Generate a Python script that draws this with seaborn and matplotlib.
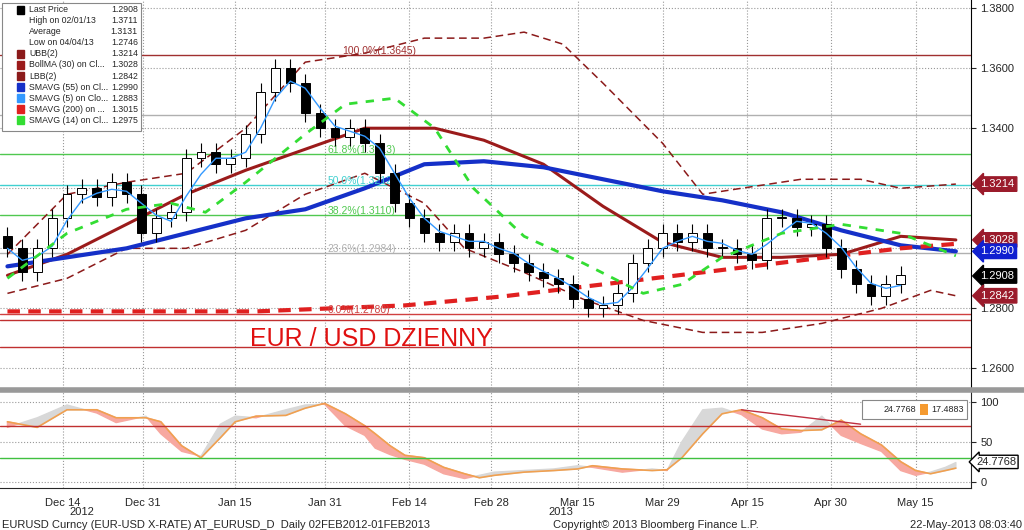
import numpy as np
import pandas as pd
import seaborn as sns
import matplotlib.pyplot as plt
from matplotlib.patches import Rectangle

sns.set_style("white")
plt.rcParams['font.family'] = ['Liberation Sans', 'DejaVu Sans']

# daily closes (one per trading slot)
closes = [1.300, 1.292, 1.300, 1.310, 1.318, 1.320, 1.317, 1.322, 1.318, 1.305, 1.310,
          1.312, 1.330, 1.332, 1.328, 1.330, 1.338, 1.352, 1.360, 1.355, 1.345, 1.340,
          1.337, 1.340, 1.335, 1.325, 1.315, 1.310, 1.305, 1.302, 1.305, 1.300, 1.302,
          1.298, 1.295, 1.292, 1.290, 1.288, 1.283, 1.280, 1.281, 1.285, 1.295, 1.300,
          1.305, 1.302, 1.305, 1.300, 1.300, 1.298, 1.296, 1.310, 1.310, 1.307, 1.308,
          1.300, 1.293, 1.288, 1.284, 1.288, 1.291]

# overlays: (slot, value)
sma55_x = [0, 4, 8, 12, 16, 20, 24, 28, 32, 36, 40, 44, 48, 52, 56, 60, 63.7]
sma55_y = [1.294, 1.297, 1.300, 1.305, 1.310, 1.313, 1.320, 1.328, 1.329, 1.327, 1.323,
           1.319, 1.316, 1.312, 1.306, 1.301, 1.299]
boll_x = [0, 4, 8, 12, 16, 20, 24, 28.7, 32, 36, 40, 44, 48, 52, 56, 60, 63.7]
boll_y = [1.291, 1.298, 1.308, 1.318, 1.326, 1.333, 1.340, 1.340, 1.336, 1.328, 1.314,
          1.302, 1.297, 1.297, 1.298, 1.304, 1.3028]
ubb_x = [0, 4, 8, 12, 16, 20, 24, 28, 32, 34.7, 37.3, 40, 44, 46.7, 49.3, 53.3, 57.3, 60, 63.7]
ubb_y = [1.298, 1.318, 1.322, 1.325, 1.340, 1.362, 1.365, 1.370, 1.370, 1.372, 1.368,
         1.355, 1.335, 1.318, 1.320, 1.323, 1.323, 1.320, 1.3214]
lbb_x = [0, 4, 8, 12, 16, 20, 24, 28, 30.7, 34.7, 38.7, 42.7, 46.7, 50.7, 54.7, 58.7, 62, 63.7]
lbb_y = [1.285, 1.290, 1.300, 1.300, 1.306, 1.318, 1.325, 1.315, 1.300, 1.292, 1.283,
         1.276, 1.272, 1.272, 1.275, 1.280, 1.286, 1.2842]
sma200_x = [0, 16.7, 26.7, 33.3, 40, 46.7, 53.3, 60, 63.7]
sma200_y = [1.279, 1.279, 1.281, 1.284, 1.288, 1.292, 1.296, 1.300, 1.3015]
sma14_x = [0, 4, 8, 11, 13.3, 16, 20, 22.7, 26, 28.7, 31.3, 34.7, 38.7, 42.7, 45.3,
           48, 52, 56, 60, 63.7]
sma14_y = [1.290, 1.305, 1.313, 1.315, 1.312, 1.322, 1.338, 1.348, 1.350, 1.340, 1.320,
           1.304, 1.295, 1.285, 1.288, 1.297, 1.305, 1.308, 1.305, 1.2975]

fib_levels = [1.3645, 1.3313, 1.3212, 1.3110, 1.2984, 1.2780]
fib_labels = ["100.0%(1.3645)", "61.8%(1.3313)", "50.0%(1.3212)", "38.2%(1.3110)",
              "23.6%(1.2984)", "0.0%(1.2780)"]
fib_colors = ["#a03030", "#50c850", "#40d0d0", "#50c850", "#b0b0b0", "#d04040"]
extra_levels = [1.3443, 1.2760, 1.2670]

# oscillator (slow line and fast line)
osc_x = [0, 2, 4, 6, 7.3, 9.3, 10.3, 11.7, 13, 14.3, 15.3, 16.7, 18.7, 20, 21.3, 22.7,
         24, 24.7, 25.7, 26.7, 28, 29.3, 30.7, 31.7, 32.7, 34.7, 36.7, 38.3, 39.3, 41.3,
         43.3, 44.3, 45.3, 46.7, 48, 49.3, 50.7, 52, 53.3, 54.7, 56, 57.3, 58.7, 60, 61,
         62, 63, 63.7]
slow = [75, 68, 90, 90, 80, 80, 75, 45, 30, 55, 75, 82, 83, 92, 98, 85, 70, 60, 45, 33,
        30, 18, 10, 5, 8, 12, 14, 16, 20, 16, 14, 15, 30, 60, 85, 90, 80, 66, 64, 65, 77,
        60, 46, 25, 14, 10, 14, 17]
fast = [68, 80, 96, 86, 74, 82, 60, 38, 32, 72, 82, 80, 90, 96, 97, 70, 58, 42, 34, 28,
        22, 10, 4, 8, 12, 14, 16, 20, 18, 12, 16, 14, 50, 90, 92, 84, 66, 60, 62, 82, 58,
        48, 38, 14, 8, 12, 18, 24]

tick_pos = [3.7, 9.1, 15.3, 21.3, 27, 32.5, 38.3, 44, 49.7, 55.3, 61]
tick_lab = ["Dec 14", "Dec 31", "Jan 15", "Jan 31", "Feb 14", "Feb 28", "Mar 15",
            "Mar 29", "Apr 15", "Apr 30", "May 15"]

fig = plt.figure(figsize=(10.24, 5.3), dpi=100)
ax = fig.add_axes([0.0, 0.268, 0.948, 0.732])
ax2 = fig.add_axes([0.0, 0.079, 0.948, 0.181])
xmin, xmax = -0.5, 64.7

# candles
opens = [closes[0] + 0.004] + closes[:-1]
df = pd.DataFrame({"i": range(len(closes)), "o": opens, "c": closes})
for _, r in df.iterrows():
    lo, hi = min(r.o, r.c), max(r.o, r.c)
    ax.vlines(r.i, lo - 0.003, hi + 0.003, color="black", lw=0.8, zorder=3)
    ax.add_patch(Rectangle((r.i - 0.3, lo), 0.6, max(hi - lo, 0.0006),
                           facecolor="black" if r.c < r.o else "white",
                           edgecolor="black", lw=0.7, zorder=4))

sns.lineplot(x=df.i, y=df.c.rolling(3, min_periods=1).mean(), ax=ax, color="#3399ff", lw=1, zorder=5)
sns.lineplot(x=ubb_x, y=ubb_y, ax=ax, color="#8b1a1a", lw=1.1, linestyle=(0, (5, 3)))
sns.lineplot(x=lbb_x, y=lbb_y, ax=ax, color="#8b1a1a", lw=1.1, linestyle=(0, (5, 3)))
sns.lineplot(x=boll_x, y=boll_y, ax=ax, color="#9b1b1b", lw=2.2)
sns.lineplot(x=sma55_x, y=sma55_y, ax=ax, color="#1530c8", lw=3)
sns.lineplot(x=sma200_x, y=sma200_y, ax=ax, color="#e02020", lw=3, linestyle=(0, (3, 2)))
sns.lineplot(x=sma14_x, y=sma14_y, ax=ax, color="#33dd33", lw=2, linestyle=(0, (3, 3)), zorder=6)

for lv, lb, cl in zip(fib_levels, fib_labels, fib_colors):
    ax.axhline(lv, color=cl, lw=1, zorder=1)
    ax.text(22.5 if lv > 1.36 else 21.5, lv + 0.0003, lb, color=cl, fontsize=7.5, zorder=2)
for lv in extra_levels:
    ax.axhline(lv, color="#b0b0b0" if lv > 1.3 else "#c03030", lw=1, zorder=1)

ax.text(16.3, 1.2675, "EUR / USD DZIENNY", color="#e01010", fontsize=18)

ax.set_xlim(xmin, xmax)
ax.set_ylim(1.2535, 1.3827)
ax.yaxis.tick_right()
ax.set_yticks([1.26, 1.28, 1.30, 1.32, 1.34, 1.36, 1.38])
ax.set_yticklabels([f"{v:.4f}" for v in [1.26, 1.28, 1.30, 1.32, 1.34, 1.36, 1.38]], fontsize=8)
ax.set_xticks(tick_pos)
ax.set_xticklabels([])
ax.grid(True, color="#999999", ls=":", lw=0.8)
for s in ["top", "left", "bottom"]:
    ax.spines[s].set_visible(False)
ax.spines["right"].set_color("black")

tags = [(1.3214, "1.3214", "#9b1b2b"), (1.3028, "1.3028", "#9b1b2b"),
        (1.2990, "1.2990", "#1020d0"), (1.2908, "1.2908", "black"),
        (1.2842, "1.2842", "#9b1b2b")]
for v, t, c in tags:
    ax.annotate(t, xy=(1.0, v), xycoords=("axes fraction", "data"), xytext=(7, 0),
                textcoords="offset points", va="center", fontsize=8, color="white",
                bbox=dict(boxstyle="larrow,pad=0.2", fc=c, ec=c), annotation_clip=False, zorder=10)

legend_rows = [("Last Price", "1.2908"), ("High on 02/01/13", "1.3711"), ("Average", "1.3131"),
               ("Low on 04/04/13", "1.2746"), ("UBB(2)", "1.3214"), ("BollMA (30) on Cl...", "1.3028"),
               ("LBB(2)", "1.2842"), ("SMAVG (55) on Cl...", "1.2990"), ("SMAVG (5) on Clo...", "1.2883"),
               ("SMAVG (200) on ...", "1.3015"), ("SMAVG (14) on Cl...", "1.2975")]
sw = ["black", None, None, None, "#8b1a1a", "#9b1b1b", "#8b1a1a", "#1530c8", "#3399ff", "#e02020", "#33dd33"]
ax.add_patch(Rectangle((0.002, 0.663), 0.143, 0.33, transform=ax.transAxes, fc="white",
                       ec="#888888", lw=0.8, zorder=8))
for k, ((n, v), c) in enumerate(zip(legend_rows, sw)):
    yy = 0.975 - k * 0.0285
    if c:
        ax.add_patch(Rectangle((0.017, yy - 0.01), 0.008, 0.02, transform=ax.transAxes,
                               fc=c, ec=c, zorder=9))
    ax.text(0.03, yy, n, transform=ax.transAxes, fontsize=6.3, va="center", zorder=9)
    ax.text(0.142, yy, v, transform=ax.transAxes, fontsize=6.3, va="center", ha="right", zorder=9)

# oscillator panel
sl, fa = np.array(slow, float), np.array(fast, float)
ax2.fill_between(osc_x, sl, fa, where=fa >= sl, color="#d8d8d8", interpolate=True)
ax2.fill_between(osc_x, sl, fa, where=fa < sl, color="#f7a8a0", interpolate=True)
sns.lineplot(x=osc_x, y=slow, ax=ax2, color="#f0a050", lw=1.2)
ax2.plot([49.3, 57.3], [90, 72], color="#c03040", lw=1)
ax2.axhline(70, color="#c03030", lw=1)
ax2.axhline(30, color="#40c040", lw=1)
ax2.set_xlim(xmin, xmax)
ax2.set_ylim(-8, 112)
ax2.yaxis.tick_right()
ax2.set_yticks([0, 50, 100])
ax2.tick_params(labelsize=8)
ax2.set_xticks(tick_pos)
ax2.set_xticklabels(tick_lab, fontsize=8)
ax2.grid(True, color="#999999", ls=":", lw=0.8)
for s in ["top", "left"]:
    ax2.spines[s].set_visible(False)
ax2.add_patch(Rectangle((0.888, 0.72), 0.108, 0.2, transform=ax2.transAxes, fc="white",
                        ec="#888888", lw=0.8, zorder=8))
ax2.add_patch(Rectangle((0.948, 0.76), 0.008, 0.12, transform=ax2.transAxes, fc="#f59a30",
                        ec="none", zorder=9))
ax2.text(0.944, 0.82, "24.7768", transform=ax2.transAxes, fontsize=6.5, ha="right", va="center", zorder=9)
ax2.text(0.993, 0.82, "17.4883", transform=ax2.transAxes, fontsize=6.5, ha="right", va="center", zorder=9)
ax2.annotate("24.7768", xy=(1.0, 24.8), xycoords=("axes fraction", "data"), xytext=(4, 0),
             textcoords="offset points", va="center", fontsize=8,
             bbox=dict(boxstyle="larrow,pad=0.15", fc="white", ec="black"), annotation_clip=False)

fig.add_artist(plt.Line2D([0, 1], [0.264, 0.264], color="#999999", lw=4))
fig.text(0.08, 0.028, "2012", fontsize=8, ha="center")
fig.text(0.548, 0.028, "2013", fontsize=8, ha="center")
fig.text(0.002, 0.004, "EURUSD Curncy (EUR-USD X-RATE) AT_EURUSD_D  Daily 02FEB2012-01FEB2013", fontsize=8)
fig.text(0.54, 0.004, "Copyright\u00a9 2013 Bloomberg Finance L.P.", fontsize=8)
fig.text(0.998, 0.004, "22-May-2013 08:03:40", fontsize=8, ha="right")

fig.savefig("out.png", dpi=100, facecolor="white")
